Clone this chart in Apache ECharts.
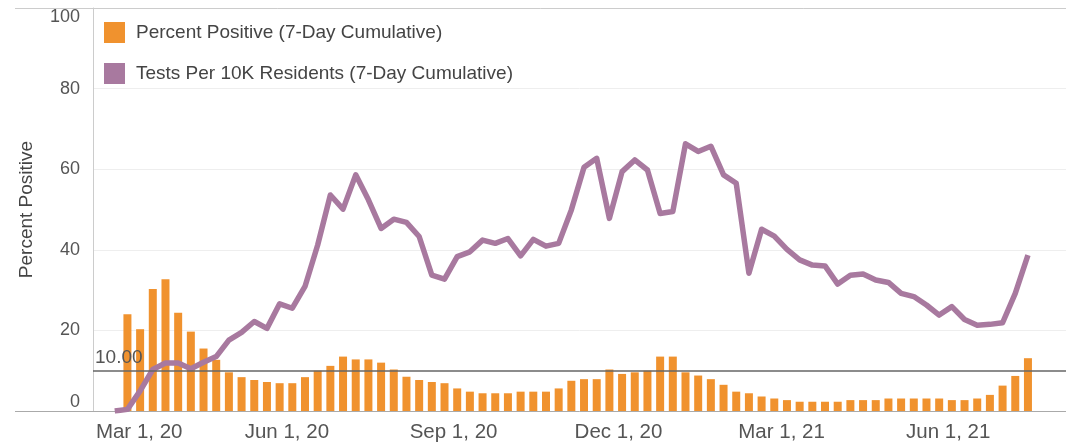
<!DOCTYPE html>
<html>
<head>
<meta charset="utf-8">
<script src="https://cdn.jsdelivr.net/npm/echarts@6/dist/echarts.min.js"></script>
<style>
  html, body { margin: 0; padding: 0; background: #fff; }
  #chart { width: 1066px; height: 447px; }
</style>
</head>
<body>
<div id="chart"></div>
<script>
// weekly points, first one on Feb 27, 2020
var weekStart = [2020, 1, 27];
var weekCount = 73;

// Percent Positive (7-Day Cumulative), first week has no bar
var percentPositive = [null,
  24.0, 20.3, 30.3, 32.7, 24.4, 19.7, 15.5, 12.7, 9.6, 8.4,
  7.7, 7.2, 6.9, 6.9, 8.4, 10.0, 11.2, 13.5, 12.8, 12.8,
  12.0, 10.3, 8.5, 7.7, 7.2, 6.9, 5.6, 4.8, 4.4, 4.4,
  4.4, 4.8, 4.8, 4.8, 5.6, 7.5, 7.9, 7.9, 10.3, 9.2,
  9.6, 10.0, 13.5, 13.5, 9.6, 8.8, 7.9, 6.5, 4.8, 4.4,
  3.6, 3.1, 2.7, 2.3, 2.3, 2.3, 2.3, 2.7, 2.7, 2.7,
  3.1, 3.1, 3.1, 3.1, 3.1, 2.7, 2.7, 3.1, 4.0, 6.3,
  8.7, 13.1];

// Tests Per 10K Residents (7-Day Cumulative)
var testsPer10K = [
  0, 0.4, 5.0, 10.3, 11.9, 11.9, 10.5, 12.1, 13.5, 17.6,
  19.5, 22.2, 20.5, 26.6, 25.5, 30.9, 41.2, 53.6, 50.1, 58.6,
  52.4, 45.3, 47.6, 46.8, 43.3, 33.7, 32.7, 38.3, 39.5, 42.4,
  41.6, 42.8, 38.5, 42.6, 40.9, 41.6, 49.9, 60.5, 62.7, 47.8,
  59.4, 62.3, 59.8, 49.0, 49.5, 66.3, 64.4, 65.7, 58.6, 56.5,
  34.2, 45.1, 43.4, 40.1, 37.5, 36.2, 36.0, 31.5, 33.7, 34.0,
  32.5, 31.9, 29.2, 28.4, 26.3, 23.8, 25.9, 22.7, 21.3, 21.5,
  21.9, 29.2, 38.7];

var xTickDates = [[2020, 2, 1], [2020, 5, 1], [2020, 8, 1], [2020, 11, 1], [2021, 2, 1], [2021, 5, 1]];
var xTickLabels = ['Mar 1, 20', 'Jun 1, 20', 'Sep 1, 20', 'Dec 1, 20', 'Mar 1, 21', 'Jun 1, 21'];

var refValue = 10;

function ts(d) { return new Date(d[0], d[1], d[2]).getTime(); }

var weeks = [];
for (var i = 0; i < weekCount; i++) {
  weeks.push(new Date(weekStart[0], weekStart[1], weekStart[2] + i * 7).getTime());
}
var barData = weeks.map(function (t, i) { return [t, percentPositive[i]]; });
var lineData = weeks.map(function (t, i) { return [t, testsPer10K[i]]; });
var tickValues = xTickDates.map(ts);

var font = 'Arial, "Liberation Sans", sans-serif';

var chart = echarts.init(document.getElementById('chart'));
chart.setOption({
  animation: false,
  textStyle: { fontFamily: font },
  grid: { left: 93, right: 0, top: 8, bottom: 36, containLabel: false, outerBoundsMode: 'none' },
  legend: {
    orient: 'vertical',
    left: 104,
    top: 22,
    padding: 0,
    itemWidth: 21,
    itemHeight: 21,
    itemGap: 20,
    icon: 'rect',
    textStyle: { fontSize: 19, color: '#444', fontFamily: font, padding: [0, 0, 0, 6] },
    data: ['Percent Positive (7-Day Cumulative)', 'Tests Per 10K Residents (7-Day Cumulative)']
  },
  xAxis: {
    type: 'value',
    min: ts([2020, 1, 15]),
    max: ts([2021, 7, 5]),
    axisLine: { show: true, lineStyle: { color: '#aaa', width: 1 } },
    axisTick: { show: false },
    splitLine: { show: false },
    axisLabel: {
      customValues: tickValues,
      margin: 11,
      fontSize: 20.5,
      color: '#555',
      fontFamily: font,
      hideOverlap: false,
      formatter: function (v) {
        var k = tickValues.indexOf(v);
        if (k === 0) return '{first|' + xTickLabels[k] + '}';
        return k >= 0 ? xTickLabels[k] : '';
      },
      rich: { first: { fontSize: 20.5, color: '#555', fontFamily: font, padding: [0, 0, 0, 38] } }
    }
  },
  yAxis: {
    type: 'value',
    min: 0,
    max: 100,
    interval: 20,
    name: 'Percent Positive',
    nameLocation: 'middle',
    nameGap: 57,
    nameRotate: 90,
    nameTextStyle: { fontSize: 19, color: '#444', fontFamily: font },
    axisLine: { show: true, lineStyle: { color: '#ccc' } },
    axisTick: { show: false },
    splitLine: { show: true, lineStyle: { color: '#eee' } },
    axisLabel: {
      fontSize: 18,
      color: '#555',
      margin: 13,
      fontFamily: font,
      verticalAlignMinLabel: 'bottom',
      verticalAlignMaxLabel: 'top'
    }
  },
  graphic: [
    { type: 'line', silent: true, z: 10, shape: { x1: 15, y1: 8.5, x2: 1066, y2: 8.5 }, style: { stroke: '#ccc', lineWidth: 1 } },
    { type: 'line', silent: true, z: 10, shape: { x1: 15, y1: 411.5, x2: 93, y2: 411.5 }, style: { stroke: '#aaa', lineWidth: 1 } }
  ],
  series: [
    {
      name: 'Percent Positive (7-Day Cumulative)',
      type: 'bar',
      barWidth: 8,
      itemStyle: { color: '#f0922e' },
      data: barData,
      markLine: {
        silent: true,
        symbol: 'none',
        lineStyle: { color: '#666', type: 'solid', width: 1.5 },
        label: {
          position: 'insideStartTop',
          formatter: '10.00',
          fontSize: 19,
          color: '#555',
          fontFamily: font,
          distance: [2, 3]
        },
        data: [{ yAxis: refValue }]
      }
    },
    {
      name: 'Tests Per 10K Residents (7-Day Cumulative)',
      type: 'line',
      symbol: 'none',
      lineStyle: { color: '#a8799f', width: 5.5, join: 'round' },
      itemStyle: { color: '#a8799f' },
      data: lineData
    }
  ]
});
</script>
</body>
</html>
